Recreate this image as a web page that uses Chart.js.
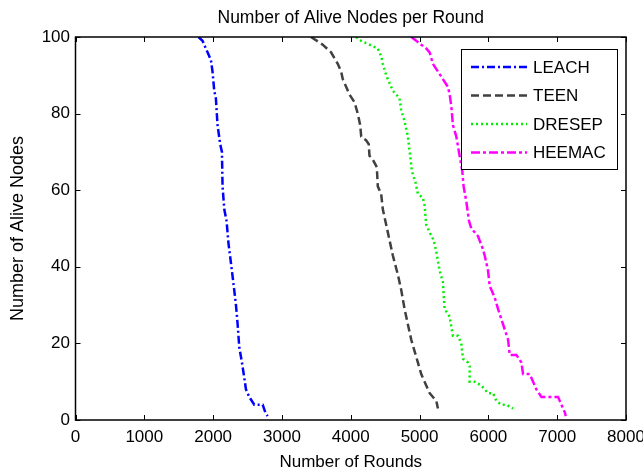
<!DOCTYPE html>
<html>
<head>
<meta charset="utf-8">
<script src="https://cdn.jsdelivr.net/npm/chart.js@4/dist/chart.umd.min.js"></script>
<style>
html,body{margin:0;padding:0;background:#fff;}
#wrap{width:643px;height:471px;}
</style>
</head>
<body>
<div id="wrap"><canvas id="c" width="643" height="471"></canvas></div>
<script>
const chartTitle = "Number of Alive Nodes per Round";
const xTitle = "Number of Rounds";
const yTitle = "Number of Alive Nodes";
const seriesNames = ["LEACH", "TEEN", "DRESEP", "HEEMAC"];
const xTicks = [0,1000,2000,3000,4000,5000,6000,7000,8000];
const yTicks = [0,20,40,60,80,100];

const leachRounds = [1787,1846,1919,1968,1991,2016,2040,2064,2103,2128,2137,2162,2195,2224,2259,2293,2332,2356,2380,2419,2453,2477,2526,2598,2720,2758,2792];
const leachNodes  = [100,99,96,94,91,86,84,77,72,70,61,55,52,46,41,36,30,25,19,15,11,8,6,4,4,2,1];

const teenRounds = [3423,3592,3714,3811,3860,3884,3933,3981,4054,4102,4137,4152,4224,4262,4272,4320,4379,4393,4442,4466,4515,4563,4611,4684,4733,4782,4830,4879,4927,4976,5024,5097,5146,5194,5243,5267];
const teenNodes  = [100,98,96,93,91,89,87,85,83,80,77,74,73,72,69,68,66,61,59,55,51,47,43,38,34,29,25,21,18,15,12,9,7,6,5,3];

const dresepRounds = [4078,4151,4272,4393,4442,4466,4515,4563,4611,4661,4709,4733,4782,4830,4864,4888,4942,4976,5049,5073,5097,5146,5204,5243,5291,5339,5364,5437,5485,5558,5606,5631,5704,5728,5728,5801,5898,5995,6068,6116,6189,6262,6359];
const dresepNodes  = [100,99,98,97,95,93,90,88,86,85,84,81,78,74,69,65,62,59,58,56,51,49,47,44,39,36,29,27,22,22,20,16,15,14,10,10,9,7,7,5,4,4,3];

const heemacRounds = [4879,4952,5024,5097,5146,5194,5267,5339,5412,5437,5461,5485,5534,5582,5621,5640,5680,5718,5752,5849,5913,5946,5995,6019,6092,6140,6213,6286,6310,6407,6480,6504,6601,6650,6698,6771,6893,7013,7062,7111,7125];
const heemacNodes  = [100,99,98,97,96,93,91,89,87,85,82,77,74,69,65,61,57,52,50,48,45,43,39,35,32,29,25,21,17,17,15,12,12,10,8,6,6,6,4,2,1];

const FONT = '"Liberation Sans", Arial, sans-serif';
const FS = 17;

function pts(xs, ys){ return xs.map((x,i)=>({x:x, y:ys[i]})); }

const styles = [
  {color:'#0000ff', dash:[8,3,2,3]},
  {color:'#404040', dash:[8,4]},
  {color:'#00ee00', dash:[2,3]},
  {color:'#ff00ff', dash:[9,3,3,3]}
];
const seriesData = [
  pts(leachRounds, leachNodes),
  pts(teenRounds, teenNodes),
  pts(dresepRounds, dresepNodes),
  pts(heemacRounds, heemacNodes)
];

const datasets = seriesNames.map((n,i)=>({
  label: n,
  data: seriesData[i],
  borderColor: styles[i].color,
  backgroundColor: styles[i].color,
  borderDash: styles[i].dash,
  borderWidth: 2.5,
  pointRadius: 0,
  tension: 0,
  fill: false
}));

const framePlugin = {
  id: 'frame',
  afterDatasetsDraw(chart){
    const ctx = chart.ctx;
    const a = chart.chartArea;
    const xs = chart.scales.x, ys = chart.scales.y;
    ctx.save();
    ctx.strokeStyle = '#000';
    ctx.lineWidth = 1;
    ctx.setLineDash([]);
    ctx.beginPath();
    xTicks.forEach(v=>{
      const px = Math.round(xs.getPixelForValue(v)) + 0.5;
      ctx.moveTo(px, a.bottom); ctx.lineTo(px, a.bottom - 5);
      ctx.moveTo(px, a.top); ctx.lineTo(px, a.top + 5);
    });
    yTicks.forEach(v=>{
      const py = Math.round(ys.getPixelForValue(v)) + 0.5;
      ctx.moveTo(a.left, py); ctx.lineTo(a.left + 5, py);
      ctx.moveTo(a.right, py); ctx.lineTo(a.right - 5, py);
    });
    ctx.stroke();
    ctx.lineWidth = 1.5;
    ctx.strokeRect(a.left, a.top, a.right - a.left, a.bottom - a.top);

    // title
    ctx.fillStyle = '#000';
    ctx.font = '17.5px ' + FONT;
    ctx.textAlign = 'center';
    ctx.textBaseline = 'alphabetic';
    ctx.fillText(chartTitle, (a.left + a.right) / 2, 22.5);

    // legend
    const bx = a.right - 165, by = a.top + 12, bw = 156, bh = 120;
    ctx.fillStyle = '#fff';
    ctx.fillRect(bx, by, bw, bh);
    ctx.lineWidth = 1;
    ctx.strokeStyle = '#000';
    ctx.strokeRect(bx + 0.5, by + 0.5, bw, bh);
    chart.data.datasets.forEach((ds, i)=>{
      const ry = by + 18 + i * 28.5;
      ctx.strokeStyle = ds.borderColor;
      ctx.lineWidth = ds.borderWidth;
      ctx.setLineDash(ds.borderDash);
      ctx.beginPath();
      ctx.moveTo(bx + 10, ry); ctx.lineTo(bx + 66, ry);
      ctx.stroke();
      ctx.setLineDash([]);
      ctx.fillStyle = '#000';
      ctx.font = FS + 'px ' + FONT;
      ctx.textAlign = 'left';
      ctx.textBaseline = 'middle';
      ctx.fillText(ds.label, bx + 72, ry + 1);
    });
    ctx.restore();
  }
};

new Chart(document.getElementById('c'), {
  type: 'line',
  data: { datasets },
  options: {
    responsive: false,
    animation: false,
    devicePixelRatio: 1,
    layout: { padding: { top: 37, right: 17, left: 0, bottom: 0 } },
    plugins: {
      legend: { display: false },
      title: { display: false },
      tooltip: { enabled: false }
    },
    scales: {
      x: {
        type: 'linear',
        min: 0, max: 8000,
        afterBuildTicks(s){ s.ticks = xTicks.map(v=>({value:v})); },
        afterFit(s){ s.height = 51; s.paddingLeft = 0; s.paddingRight = 0; },
        grid: { display: false, drawTicks: false, tickLength: 0 },
        border: { display: false },
        ticks: { color: '#000', font: { family: FONT, size: FS }, padding: 7, maxRotation: 0, autoSkip: false, callback: v => String(v) },
        title: { display: true, text: xTitle, color: '#000', font: { family: FONT, size: FS }, padding: { top: 0, bottom: -1.5 } }
      },
      y: {
        type: 'linear',
        min: 0, max: 100,
        afterBuildTicks(s){ s.ticks = yTicks.map(v=>({value:v})); },
        afterFit(s){ s.width = 75.5; s.paddingTop = 0; s.paddingBottom = 0; },
        grid: { display: false, drawTicks: false, tickLength: 0 },
        border: { display: false },
        ticks: { color: '#000', font: { family: FONT, size: FS }, padding: 5.5, autoSkip: false, callback: v => String(v) },
        title: { display: true, text: yTitle, color: '#000', font: { family: FONT, size: 18 }, padding: { top: 7, bottom: 0 } }
      }
    }
  },
  plugins: [framePlugin]
});
</script>
</body>
</html>
